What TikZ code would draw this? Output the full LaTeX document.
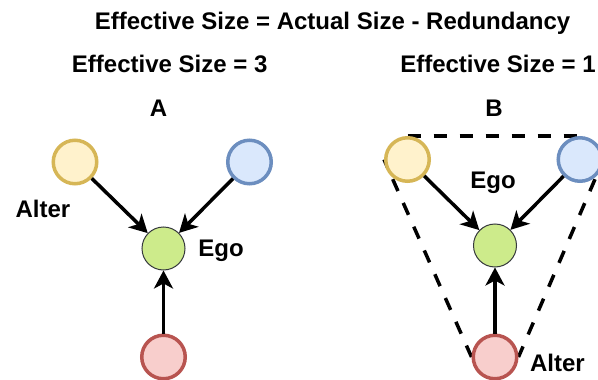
\documentclass[tikz,border=0pt]{standalone}
\usepackage{fontspec}
\setmainfont{Liberation Sans}
\usetikzlibrary{arrows.meta,backgrounds}
\definecolor{yellowfill}{HTML}{FFF2CC}
\definecolor{yellowline}{HTML}{D6B656}
\definecolor{bluefill}{HTML}{DAE8FC}
\definecolor{blueline}{HTML}{6C8EBF}
\definecolor{redfill}{HTML}{F8CECC}
\definecolor{redline}{HTML}{B85450}
\definecolor{egofill}{HTML}{CDEB8B}
\definecolor{egoline}{HTML}{36393D}

\begin{document}
\begin{tikzpicture}[x=1pt,y=-1pt,
        bigtext/.style={font=\fontsize{24}{28}\selectfont\bfseries,anchor=base,inner sep=0pt},
        alter/.style={circle,draw,line width=3.5pt,minimum size=43.5pt,inner sep=0pt},
        ego/.style={circle,draw=egoline,fill=egofill,line width=1pt,minimum size=43pt,inner sep=0pt},
        tie/.style={line width=3.5pt,-{Stealth[length=18pt,width=19pt,inset=5pt]}},
        redundant/.style={line width=3.5pt,dash pattern=on 13pt off 13pt}]
        \useasboundingbox (0,0) rectangle (598,380);
        % headings
        \node[bigtext] (title) at (332.5,29.3) {Effective Size = Actual Size - Redundancy};
        \node[bigtext] (sizeA) at (169.7,72.7) {Effective Size = 3};
        \node[bigtext] (sizeB) at (498,72.7) {Effective Size = 1};
        \node[bigtext] (nameA) at (158.5,116.7) {A};
        \node[bigtext] (nameB) at (494,116.7) {B};
        % network A
        \node[alter,draw=yellowline,fill=yellowfill] (yellowA) at (75,162) {};
        \node[alter,draw=blueline,fill=bluefill] (blueA) at (249.5,162) {};
        \node[ego] (egoA) at (163.5,248.5) {};
        \node[alter,draw=redline,fill=redfill] (redA) at (163.5,357) {};
        \node[bigtext] (alterlabelA) at (43,217.3) {Alter};
        \node[bigtext] (egolabelA) at (221,256) {Ego};
        \draw[tie] (yellowA) -- (egoA);
        \draw[tie] (blueA) -- (egoA);
        \draw[tie] (redA) -- (egoA);
        % network B
        \node[alter,draw=yellowline,fill=yellowfill] (yellowB) at (407.5,159.5) {};
        \node[alter,draw=blueline,fill=bluefill] (blueB) at (580,159.5) {};
        \node[ego] (egoB) at (495,245.5) {};
        \node[alter,draw=redline,fill=redfill] (redB) at (495,357) {};
        \node[bigtext] (egolabelB) at (493,188.3) {Ego};
        \node[bigtext] (alterlabelB) at (557.5,371.7) {Alter};
        \draw[tie] (yellowB) -- (egoB);
        \draw[tie] (blueB) -- (egoB);
        \draw[tie] (redB) -- (egoB);
        \begin{scope}[on background layer] % redundant ties between the alters
        \draw[redundant] (yellowB.north) -- (blueB.north);
        \draw[redundant,dash phase=4.5pt] (yellowB.west) -- (redB.west);
        \draw[redundant,dash phase=4.5pt] (blueB.east) -- (redB.east);
        \end{scope}
\end{tikzpicture}
\end{document}
